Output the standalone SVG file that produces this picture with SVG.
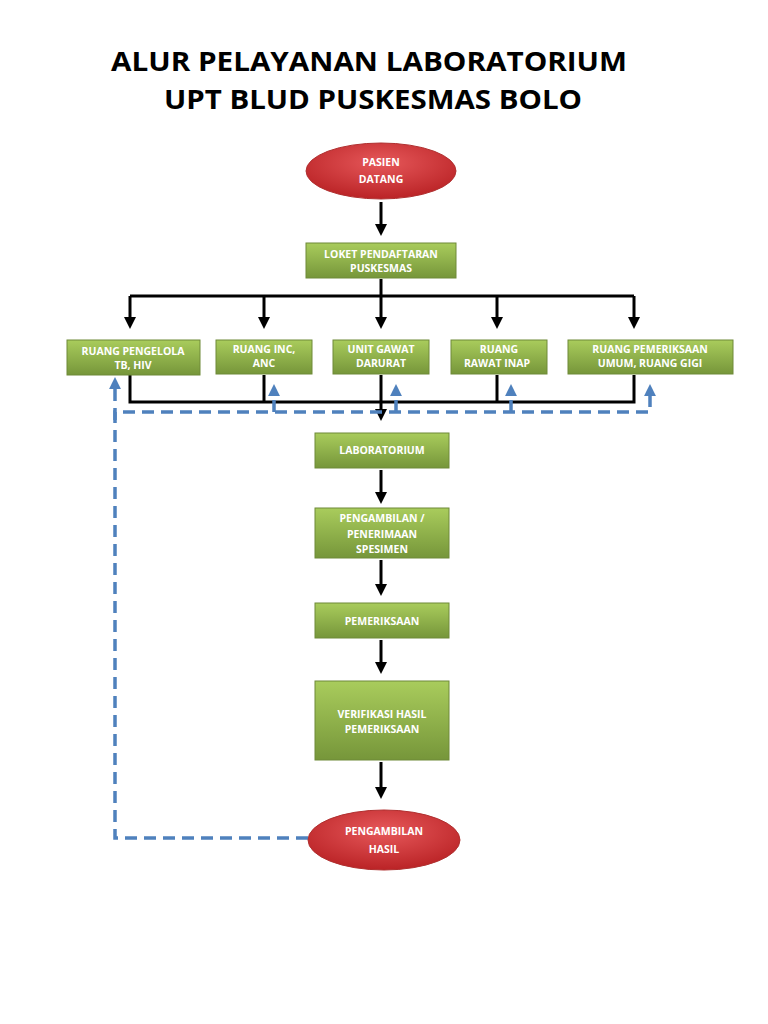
<svg xmlns="http://www.w3.org/2000/svg" width="768" height="1024" viewBox="0 0 768 1024">
<style>
.t{font-family:"Open Sans","Liberation Sans",Arial,sans-serif;font-weight:bold;font-size:27px;fill:#000;text-anchor:middle}
.n{font-family:"Open Sans","Liberation Sans",sans-serif;font-weight:bold;font-size:10.5px;fill:#fff;text-anchor:middle}
.box{fill:url(#g);stroke:#6f8a38;stroke-width:1}
.ell{fill:url(#r);stroke:#b03030;stroke-width:1}
.k{stroke:#000;stroke-width:3;fill:none}
.d{stroke:#4f81bd;stroke-width:3.5;fill:none;stroke-dasharray:12 7}
</style>
<defs>
<linearGradient id="g" x1="0" y1="0" x2="0" y2="1"><stop offset="0" stop-color="#a9cc5c"/><stop offset="1" stop-color="#76963a"/></linearGradient>
<radialGradient id="r" cx="0.5" cy="0.35" r="0.7"><stop offset="0" stop-color="#e6585a"/><stop offset="1" stop-color="#b71f22"/></radialGradient>
<marker id="a" markerWidth="4" markerHeight="4" refX="2" refY="2" orient="auto" markerUnits="strokeWidth"><path d="M0,0 L4,2 L0,4 z" fill="#000"/></marker>
<marker id="b" markerWidth="3.4" markerHeight="3.4" refX="1.7" refY="1.7" orient="auto" markerUnits="strokeWidth"><path d="M0,0 L3.4,1.7 L0,3.4 z" fill="#4f81bd"/></marker>
</defs>
<text class="t" x="369" y="71" textLength="516" lengthAdjust="spacingAndGlyphs">ALUR PELAYANAN LABORATORIUM</text>
<text class="t" x="373" y="109" textLength="418" lengthAdjust="spacingAndGlyphs">UPT BLUD PUSKESMAS BOLO</text>
<g id="connectors">
<path class="k" d="M381,202 V230" marker-end="url(#a)"/>
<path class="k" d="M381,279 V323" marker-end="url(#a)"/>
<path class="k" d="M130,296 H634"/>
<path class="k" d="M130,296 V323" marker-end="url(#a)"/>
<path class="k" d="M264,296 V323" marker-end="url(#a)"/>
<path class="k" d="M497,296 V323" marker-end="url(#a)"/>
<path class="k" d="M634,296 V323" marker-end="url(#a)"/>
<path class="k" d="M130,375 V402 H634 V375"/>
<path class="k" d="M264,375 V402"/>
<path class="k" d="M497,375 V402"/>
<path class="k" d="M381,375 V415" marker-end="url(#a)"/>
<path class="k" d="M381,470 V498" marker-end="url(#a)"/>
<path class="k" d="M381,560 V590" marker-end="url(#a)"/>
<path class="k" d="M381,640 V668" marker-end="url(#a)"/>
<path class="k" d="M381,762 V793" marker-end="url(#a)"/>
<path class="d" d="M308,838 H115 V412 H650 V390" marker-end="url(#b)"/>
<path class="d" d="M115,420 V383" marker-end="url(#b)"/>
<path class="d" d="M274,412 V390" marker-end="url(#b)"/>
<path class="d" d="M396,412 V390" marker-end="url(#b)"/>
<path class="d" d="M511,412 V390" marker-end="url(#b)"/>
</g>
<g id="pasien"><ellipse class="ell" cx="381" cy="171" rx="75" ry="28"/><text class="n" x="381" y="166">PASIEN</text><text class="n" x="381" y="183">DATANG</text></g>
<g id="loket"><rect class="box" x="306" y="243" width="150" height="35"/><text class="n" x="381" y="258">LOKET PENDAFTARAN</text><text class="n" x="381" y="272">PUSKESMAS</text></g>
<g id="tb"><rect class="box" x="67" y="340" width="133" height="35"/><text class="n" x="133" y="355">RUANG PENGELOLA</text><text class="n" x="133" y="369">TB, HIV</text></g>
<g id="inc"><rect class="box" x="216" y="340" width="96" height="34"/><text class="n" x="264" y="353">RUANG INC,</text><text class="n" x="264" y="367">ANC</text></g>
<g id="ugd"><rect class="box" x="333" y="340" width="96" height="34"/><text class="n" x="381" y="353">UNIT GAWAT</text><text class="n" x="381" y="367">DARURAT</text></g>
<g id="inap"><rect class="box" x="451" y="340" width="96" height="34"/><text class="n" x="499" y="353">RUANG</text><text class="n" x="497" y="367">RAWAT INAP</text></g>
<g id="umum"><rect class="box" x="568" y="340" width="165" height="34"/><text class="n" x="650" y="353">RUANG PEMERIKSAAN</text><text class="n" x="650" y="367">UMUM, RUANG GIGI</text></g>
<g id="lab"><rect class="box" x="315" y="433" width="134" height="35"/><text class="n" x="382" y="454">LABORATORIUM</text></g>
<g id="spesimen"><rect class="box" x="315" y="508" width="134" height="50"/><text class="n" x="382" y="522">PENGAMBILAN  /</text><text class="n" x="382" y="538">PENERIMAAN</text><text class="n" x="382" y="553">SPESIMEN</text></g>
<g id="periksa"><rect class="box" x="315" y="603" width="134" height="35"/><text class="n" x="382" y="625">PEMERIKSAAN</text></g>
<g id="verifikasi"><rect class="box" x="315" y="681" width="134" height="79"/><text class="n" x="382" y="718">VERIFIKASI HASIL</text><text class="n" x="382" y="733">PEMERIKSAAN</text></g>
<g id="hasil"><ellipse class="ell" cx="384" cy="840" rx="76" ry="30"/><text class="n" x="384" y="835">PENGAMBILAN</text><text class="n" x="384" y="853">HASIL</text></g>
</svg>
